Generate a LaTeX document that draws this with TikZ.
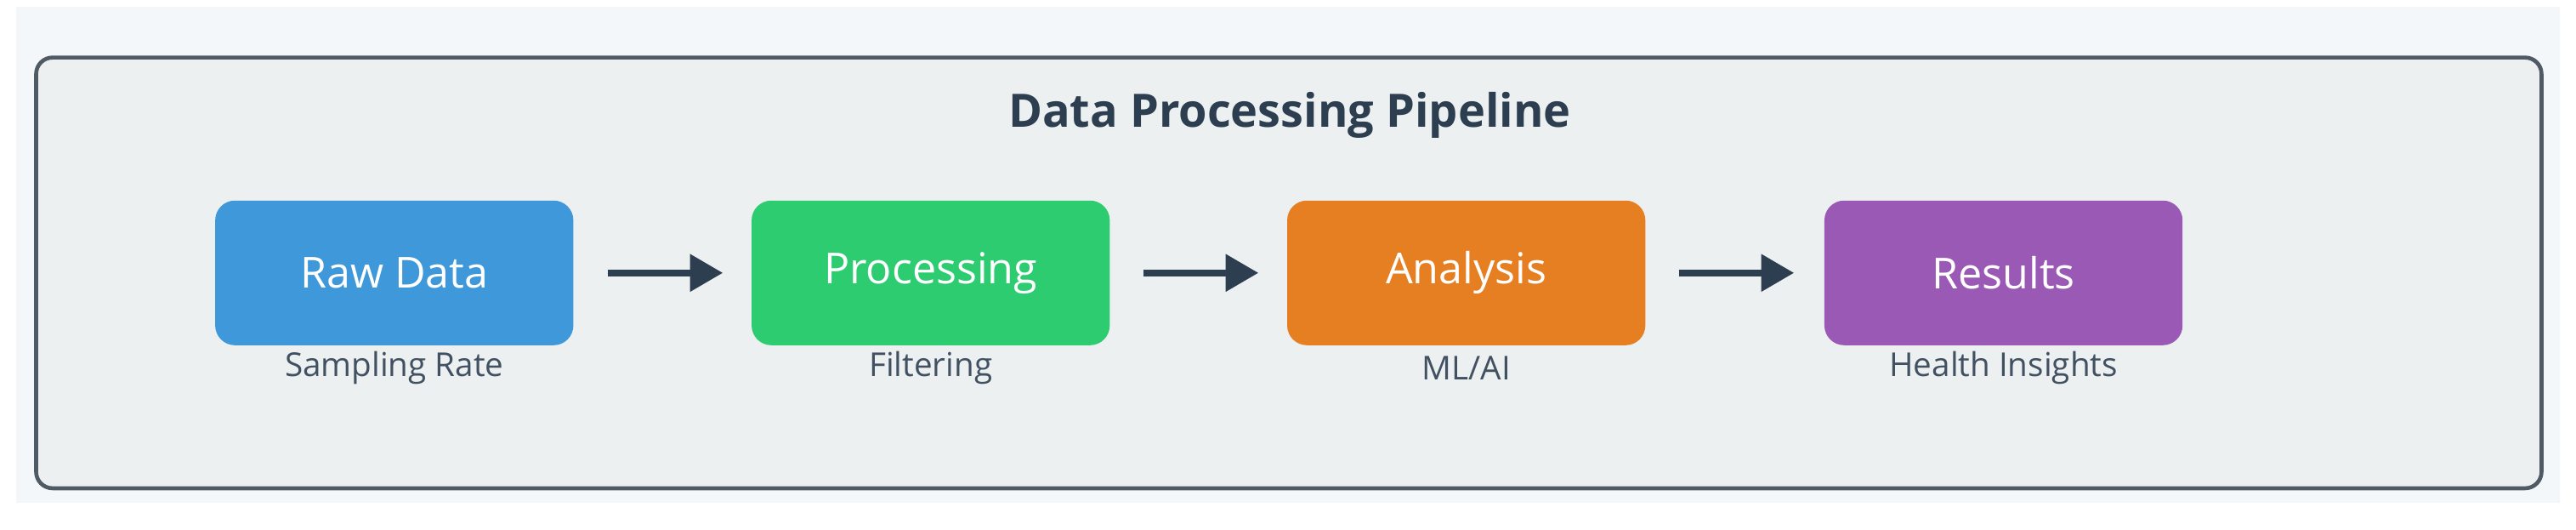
\documentclass[tikz,border=0pt]{standalone}
\usepackage{fontspec}
\setmainfont{Open Sans}
\usetikzlibrary{arrows.meta}
\definecolor{cblue}{HTML}{3E98DA}
\definecolor{cgreen}{HTML}{2ECC71}
\definecolor{corange}{HTML}{E67E22}
\definecolor{cpurple}{HTML}{9B59B6}
\definecolor{dark}{HTML}{2C3E50}
\definecolor{framebg}{HTML}{ECF0F1}
\definecolor{frameline}{HTML}{4F5A65}
\definecolor{outerbg}{HTML}{F4F7F9}
\begin{document}
\begin{tikzpicture}[x=0.5pt,y=-0.5pt,
  stage/.style={rounded corners=6pt,minimum width=109pt,minimum height=44pt,text=white,font=\fontsize{13}{15}\selectfont,inner sep=0pt},
  sub/.style={font=\fontsize{10}{12}\selectfont,text=dark!90},
  conn/.style={line width=2pt,dark,-{Triangle[length=10pt,width=11pt]}}]
\useasboundingbox (0,0) rectangle (1568,322);
\fill[white] (0,0) rectangle (1568,322);
\fill[outerbg] (10,4) rectangle (1558,306);
\draw[frameline,line width=1.2pt,fill=framebg,rounded corners=5pt] (22,35) rectangle (1547,297);
\node[font=\bfseries\fontsize{14}{16}\selectfont,text=dark] (title) at (785,70) {Data Processing Pipeline};
\node[stage,fill=cblue] (raw) at (240,166) {Raw Data};
\node[stage,fill=cgreen] (proc) at (566.5,166) {Processing};
\node[stage,fill=corange] (ana) at (892.5,166) {Analysis};
\node[stage,fill=cpurple] (res) at (1219.5,166) {Results};
\node[sub] (l1) at (240,224) {Sampling Rate};
\node[sub] (l2) at (566.5,224) {Filtering};
\node[sub] (l3) at (892.5,224) {ML/AI};
\node[sub] (l4) at (1219.5,224) {Health Insights};
\coordinate (a1s) at (370,166); \coordinate (a1e) at (440,166);
\coordinate (a2s) at (696,166); \coordinate (a2e) at (766,166);
\coordinate (a3s) at (1022,166); \coordinate (a3e) at (1092,166);
\draw[conn] (a1s) -- (a1e);
\draw[conn] (a2s) -- (a2e);
\draw[conn] (a3s) -- (a3e);
\end{tikzpicture}
\end{document}
